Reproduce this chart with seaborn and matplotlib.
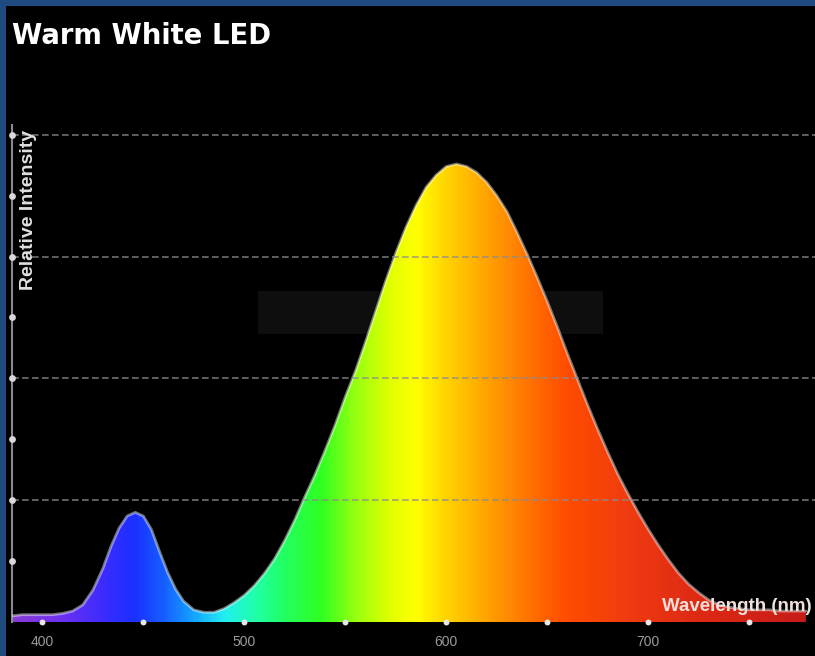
import numpy as np
import matplotlib
matplotlib.use("Agg")
import matplotlib.pyplot as plt
import seaborn as sns
from matplotlib.colors import LinearSegmentedColormap
from matplotlib.patches import Rectangle

# spectrum (nm, relative intensity)
wavelength = [385, 390, 395, 400, 405, 410, 415, 420, 425, 430, 434, 438, 442, 446, 450,
              454, 458, 462, 466, 470, 475, 480, 485, 490, 495, 500, 505, 510, 515, 520,
              525, 530, 535, 540, 545, 550, 555, 560, 565, 570, 575, 580, 585, 590, 595,
              600, 605, 610, 615, 620, 625, 630, 635, 640, 645, 650, 655, 660, 665, 670,
              675, 680, 685, 690, 695, 700, 705, 710, 715, 720, 725, 730, 735, 740, 745,
              750, 755, 760, 765, 770, 775, 778]
intensity = [0.05, 0.06, 0.06, 0.06, 0.06, 0.07, 0.09, 0.14, 0.26, 0.44, 0.62, 0.77, 0.87, 0.90, 0.87,
             0.76, 0.58, 0.41, 0.27, 0.17, 0.10, 0.08, 0.08, 0.11, 0.16, 0.22, 0.30, 0.40, 0.52, 0.67,
             0.84, 1.03, 1.21, 1.41, 1.62, 1.85, 2.06, 2.30, 2.55, 2.80, 3.03, 3.24, 3.42, 3.57, 3.67,
             3.74, 3.76, 3.74, 3.69, 3.61, 3.50, 3.37, 3.20, 3.02, 2.83, 2.63, 2.42, 2.20, 1.99, 1.78,
             1.58, 1.39, 1.21, 1.05, 0.90, 0.76, 0.63, 0.51, 0.40, 0.31, 0.24, 0.18, 0.14, 0.12, 0.11,
             0.10, 0.10, 0.10, 0.09, 0.09, 0.09, 0.09]

x_ticks = [400, 450, 500, 550, 600, 650, 700, 750]
x_labels = ["400", "", "500", "", "600", "", "700", ""]
grid_levels = [1, 2, 3, 4]
y_dots = [0.5, 1, 1.5, 2, 2.5, 3, 3.5, 4]

# colour of the fill along the wavelength axis
stop_nm = [385, 410, 430, 445, 460, 475, 490, 505, 520, 538, 555, 572, 585, 600, 615,
           630, 645, 660, 690, 720, 782.5]
stop_colors = ["#8a3ad8", "#6a30f0", "#3a2cff", "#1a30ff", "#1660ff", "#14a8ff", "#22f0f0",
               "#20ffa8", "#22ff60", "#30ff20", "#98ff10", "#e0ff00", "#ffff00", "#ffd400",
               "#ffb000", "#ff8c00", "#ff6a00", "#ff4c00", "#f03c10", "#e02c14", "#c41a18"]

xmin, xmax = 385, 782.5
ymax = 4.08

sns.set_theme(style="dark")
plt.rcParams["font.family"] = ["Liberation Sans", "DejaVu Sans"]

fig = plt.figure(figsize=(8.15, 6.56), dpi=100, facecolor="#1f4a80")
fig.patches.append(Rectangle((6 / 815, 0), 1, 650 / 656, transform=fig.transFigure,
                             facecolor="black", edgecolor="none", zorder=-10))
ax = fig.add_axes([12 / 815, 34 / 656, 803 / 815, 497 / 656])
ax.set_facecolor("black")

# faint watermark box
ax.add_patch(Rectangle((0.306, 0.58), 0.43, 0.085, transform=ax.transAxes,
                       facecolor="#0e0e0e", edgecolor="none", zorder=0.5))

pos = [(w - xmin) / (xmax - xmin) for w in stop_nm]
cmap = LinearSegmentedColormap.from_list("spec", list(zip(pos, stop_colors)))

poly = ax.fill_between(wavelength, 0, intensity, color="none", lw=0)
img = ax.imshow(np.linspace(0, 1, 600)[None, :], extent=[xmin, xmax, 0, ymax],
                aspect="auto", cmap=cmap, origin="lower", zorder=2, interpolation="bilinear")
img.set_clip_path(poly.get_paths()[0], transform=ax.transData)

# light edge along the curve
sns.lineplot(x=wavelength, y=intensity, ax=ax, color="white", alpha=0.45, lw=2.0, zorder=3)

for g in grid_levels:
    ax.axhline(g, color="#8c8c8c", lw=1.2, ls=(0, (4, 2)), alpha=0.8, zorder=4)

ax.set_xlim(xmin, xmax)
ax.set_ylim(0, ymax)
ax.set_xticks(x_ticks)
ax.set_xticklabels(x_labels)
ax.set_yticks([])
ax.tick_params(axis="x", length=0, pad=9, labelsize=10, labelcolor="#9a9a9a")
ax.grid(False)

for s in ["top", "right", "bottom"]:
    ax.spines[s].set_visible(False)
ax.spines["left"].set_color("#8a8a8a")
ax.spines["left"].set_linewidth(1.5)

ax.scatter(x_ticks, [0] * len(x_ticks), s=18, color="#e8e8e8", zorder=6, clip_on=False, lw=0)
ax.scatter([xmin] * len(y_dots), y_dots, s=24, color="#d8d8d8", zorder=6, clip_on=False, lw=0)

ax.text(0.02, 0.99, "Relative Intensity", transform=ax.transAxes, rotation=90,
        ha="center", va="top", color="#e0e0e0", fontsize=14, fontweight="bold", zorder=7)
ax.text(0.996, 0.032, "Wavelength (nm)", transform=ax.transAxes, ha="right", va="center",
        color="#f0e0dc", fontsize=13.5, fontweight="bold", zorder=7)

fig.text(12 / 815, 1 - 36 / 656, "Warm White LED", ha="left", va="center",
         color="white", fontsize=19.8, fontweight="bold", family="DejaVu Sans")

fig.savefig("out.png", dpi=100, facecolor=fig.get_facecolor())
